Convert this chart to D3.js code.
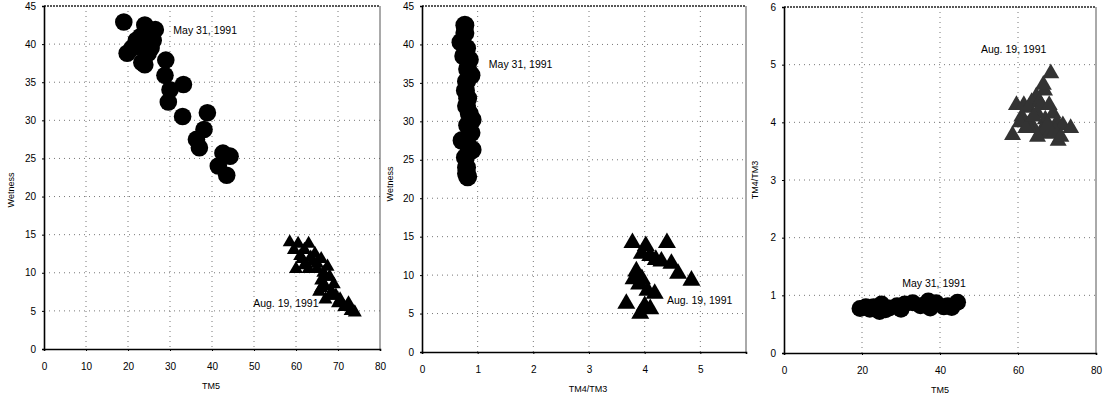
<!DOCTYPE html>
<html>
<head>
<meta charset="utf-8">
<script src="https://cdn.jsdelivr.net/npm/d3@7"></script>
<style>
  body { margin: 0; background: #fff; }
  svg { font-family: "Liberation Sans", Arial, sans-serif; }
</style>
</head>
<body>
<svg id="chart" width="1103" height="401"></svg>
<script>
// Panel 1: TM5 vs Wetness
var p1May = [[19, 42.9], [24, 42.5], [26.5, 41.9], [22, 40.5], [19.8, 38.8], [22.8, 39.7],
  [24.8, 38.8], [23.3, 37.6], [25.5, 39.5], [21, 39.5], [23, 41], [26, 40.5], [24, 37.3],
  [29, 37.9], [28.8, 35.9], [33.2, 34.7], [30, 34], [29.6, 32.4], [33, 30.5], [38.9, 31],
  [38.1, 28.8], [36.3, 27.5], [37, 26.4], [44.3, 25.3], [42.6, 25.7], [41.5, 24], [43.5, 22.8]];
var p1Aug = [[58.5, 14], [60.5, 13.8], [63, 13.8], [64.5, 12.5], [66, 11.8], [61, 12.2],
  [62, 11], [60, 10.5], [67.5, 10.8], [68, 9.5], [69, 8.5], [66, 9], [65.5, 7.5], [67, 6.5],
  [70, 6], [71.5, 5.5], [73, 5], [74, 4.8], [72.5, 6], [65, 10.5], [63.5, 12], [68.5, 7.5],
  [59.5, 13], [62, 13], [64, 11.5], [63, 10.5], [65, 11.2], [66.5, 10], [67, 8.2], [68, 7],
  [69.5, 7], [70.5, 6.5], [66, 8], [61.5, 11.8], [67, 9.5]];

// Panel 2: TM4/TM3 vs Wetness
var p2May = [[0.77, 42.5], [0.77, 41.5], [0.7, 40.3], [0.8, 39.5], [0.85, 38], [0.75, 38.5],
  [0.82, 36.8], [0.88, 36], [0.8, 35.2], [0.78, 34], [0.82, 33], [0.8, 32], [0.85, 31],
  [0.9, 30.2], [0.82, 29.5], [0.88, 28.5], [0.72, 27.5], [0.85, 26.5], [0.9, 26.3],
  [0.78, 25.3], [0.8, 24], [0.8, 23.2], [0.82, 22.8]];
var p2Aug = [[3.78, 14.2], [4.02, 13.8], [4.4, 14.2], [4.1, 12.5], [3.95, 12.8], [4.2, 12],
  [4.48, 11.5], [4.3, 11.8], [4.6, 10.2], [4.84, 9.3], [3.85, 10.5], [3.8, 9.5], [3.9, 8.8],
  [3.95, 9.5], [4.05, 8], [4.18, 7.6], [3.67, 6.3], [4.0, 6.0], [4.1, 5.6], [3.92, 5.0]];

// Panel 3: TM5 vs TM4/TM3
var p3May = [[19.5, 0.77], [21, 0.8], [22, 0.76], [23, 0.8], [24.5, 0.72], [25, 0.85],
  [26, 0.75], [27, 0.78], [29, 0.82], [30, 0.76], [31, 0.85], [33, 0.87], [35, 0.82],
  [37, 0.9], [37.5, 0.78], [39, 0.87], [41, 0.8], [42, 0.82], [43, 0.79], [44.5, 0.88]];
var p3Aug = [[68.4, 4.85], [66.8, 4.55], [64.7, 4.45], [59.6, 4.3], [62.8, 4.25], [61, 4.1],
  [63, 4.0], [65, 4.15], [67, 4.05], [69, 4.15], [70, 4.0], [71.5, 3.95], [73.5, 3.9],
  [58.6, 3.78], [70.3, 3.68], [66, 3.85], [64, 3.9], [68, 3.8], [62.5, 3.95], [60.5, 4.0],
  [61.5, 4.3], [63.5, 4.35], [65.5, 4.35], [62, 3.9], [64, 4.1], [66, 4.3], [68, 4.3],
  [69.5, 3.85], [71, 3.75], [67.5, 3.95], [65, 3.75], [66.5, 4.65]];

var xTicks1 = [0, 10, 20, 30, 40, 50, 60, 70, 80];
var xTicks2 = [0, 1, 2, 3, 4, 5];
var xTicks3 = [0, 20, 40, 60, 80];
var yTicksWet = [0, 5, 10, 15, 20, 25, 30, 35, 40, 45];
var yTicksRatio = [0, 1, 2, 3, 4, 5, 6];

var svg = d3.select('#chart');

function drawPanel(o) {
  var g = svg.append('g').attr('transform', 'translate(' + o.left + ',' + o.top + ')');
  var x = d3.scaleLinear().domain(o.xDomain).range([0, o.width]);
  var y = d3.scaleLinear().domain(o.yDomain).range([o.height, 0]);

  // grid
  g.selectAll('.gx').data(o.xTicks.filter(function(d) { return d > o.xDomain[0] && d < o.xDomain[1]; }))
    .enter().append('line')
    .attr('x1', x).attr('x2', x).attr('y1', 0).attr('y2', o.height)
    .attr('stroke', '#777').attr('stroke-width', 1).attr('stroke-dasharray', '1,4');
  g.selectAll('.gy').data(o.yTicks.filter(function(d) { return d > o.yDomain[0] && d < o.yDomain[1]; }))
    .enter().append('line')
    .attr('y1', y).attr('y2', y).attr('x1', 0).attr('x2', o.width)
    .attr('stroke', '#777').attr('stroke-width', 1).attr('stroke-dasharray', '1,4');

  // frame
  g.append('line').attr('x1', 0).attr('x2', o.width).attr('y1', 0).attr('y2', 0)
    .attr('stroke', '#222').attr('stroke-width', 1.5).attr('stroke-dasharray', '2,1');
  g.append('line').attr('x1', o.width).attr('x2', o.width).attr('y1', 0).attr('y2', o.height)
    .attr('stroke', '#555').attr('stroke-width', 1);

  // axes
  var xa = g.append('g').attr('transform', 'translate(0,' + o.height + ')')
    .call(d3.axisBottom(x).tickValues(o.xTicks).tickSize(2).tickPadding(12).tickFormat(d3.format('d')));
  var ya = g.append('g')
    .call(d3.axisLeft(y).tickValues(o.yTicks).tickSize(2).tickPadding(6).tickFormat(d3.format('d')));
  [xa, ya].forEach(function(a) {
    a.select('.domain').attr('stroke', '#000').attr('stroke-width', 1.6);
    a.selectAll('.tick line').attr('stroke', '#000');
    a.selectAll('text').attr('font-size', 10).attr('fill', '#000')
      .attr('font-family', '"Liberation Sans", Arial, sans-serif');
  });

  // axis titles
  g.append('text').attr('x', o.width / 2 + o.xTitleDx).attr('y', o.height + 40)
    .attr('text-anchor', 'middle').attr('font-size', 9).text(o.xTitle);
  g.append('text').attr('transform', 'translate(' + o.yTitleX + ',' + o.yTitleY + ') rotate(-90)')
    .attr('text-anchor', 'middle').attr('font-size', 9).text(o.yTitle);

  // labels
  o.labels.forEach(function(l) {
    g.append('text').attr('x', x(l[0])).attr('y', y(l[1])).attr('font-size', 10.5).text(l[2]);
  });

  // markers
  var circ = d3.symbol().type(d3.symbolCircle).size(Math.PI * o.r * o.r);
  var tri = d3.symbol().type(d3.symbolTriangle).size(Math.sqrt(3) / 4 * o.tri * o.tri);
  g.selectAll('.may').data(o.may).enter().append('path')
    .attr('d', circ)
    .attr('transform', function(d) { return 'translate(' + x(d[0]) + ',' + y(d[1]) + ')'; })
    .attr('fill', '#000');
  g.selectAll('.aug').data(o.aug).enter().append('path')
    .attr('d', tri)
    .attr('transform', function(d) { return 'translate(' + x(d[0]) + ',' + y(d[1]) + ')'; })
    .attr('fill', o.triColor);
}

drawPanel({
  left: 44, top: 6, width: 336, height: 343,
  xDomain: [0, 80], yDomain: [0, 45], xTicks: xTicks1, yTicks: yTicksWet,
  xTitle: 'TM5', xTitleDx: -1, yTitle: 'Wetness', yTitleX: -30, yTitleY: 184,
  may: p1May, aug: p1Aug, r: 8.8, tri: 14, triColor: '#000',
  labels: [[30.8, 41.3, 'May 31, 1991'], [49.8, 5.5, 'Aug. 19, 1991']]
});

drawPanel({
  left: 422, top: 6, width: 324, height: 346,
  xDomain: [0, 5.82], yDomain: [0, 45], xTicks: xTicks2, yTicks: yTicksWet,
  xTitle: 'TM4/TM3', xTitleDx: 4, yTitle: 'Wetness', yTitleX: -29, yTitleY: 178,
  may: p2May, aug: p2Aug, r: 9.5, tri: 18, triColor: '#000',
  labels: [[1.2, 37.0, 'May 31, 1991'], [4.4, 6.2, 'Aug. 19, 1991']]
});

drawPanel({
  left: 784, top: 7, width: 312, height: 346,
  xDomain: [0, 80], yDomain: [0, 6], xTicks: xTicks3, yTicks: yTicksRatio,
  xTitle: 'TM5', xTitleDx: 0, yTitle: 'TM4/TM3', yTitleX: -26, yTitleY: 173,
  may: p3May, aug: p3Aug, r: 8.5, tri: 17, triColor: '#333',
  labels: [[50.5, 5.2, 'Aug. 19, 1991'], [30.3, 1.15, 'May 31, 1991']]
});
</script>
</body>
</html>
